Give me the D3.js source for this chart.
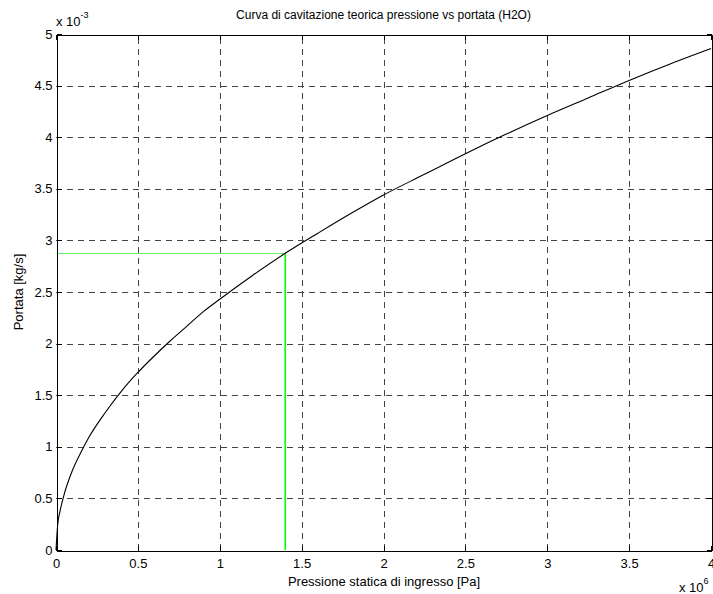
<!DOCTYPE html>
<html>
<head>
<meta charset="utf-8">
<script src="https://cdn.jsdelivr.net/npm/d3@7"></script>
<style>
  body { margin: 0; background: #fff; }
  svg text { font-family: "Liberation Sans", Arial, sans-serif; fill: #000; }
</style>
</head>
<body>
<div id="chart"></div>
<script>
// values (x in units of 1e6 Pa, y in units of 1e-3 kg/s)
var pressione = [0, 0.01, 0.025, 0.05, 0.1, 0.15, 0.2, 0.3, 0.4, 0.5, 0.6, 0.7, 0.8, 0.9, 1.0,
                 1.2, 1.4, 1.6, 1.8, 2.0, 2.25, 2.5, 2.75, 3.0, 3.25, 3.5, 3.75, 4.0];
var portata   = [0, 0.24, 0.38, 0.54, 0.77, 0.94, 1.09, 1.33, 1.54, 1.72, 1.88, 2.03, 2.17, 2.31, 2.43,
                 2.66, 2.875, 3.07, 3.26, 3.44, 3.64, 3.84, 4.03, 4.21, 4.38, 4.55, 4.71, 4.86];
var xTicks    = [0, 0.5, 1, 1.5, 2, 2.5, 3, 3.5, 4];
var yTicks    = [0, 0.5, 1, 1.5, 2, 2.5, 3, 3.5, 4, 4.5, 5];
var puntoP    = 1.4;     // operating pressure
var puntoQ    = 2.875;   // corresponding flow

var width  = 713,
    height = 594;
// plot box (note: "top" is taken by window.top)
var pLeft = 56, pRight = 711, pTop = 34, pBottom = 550;

var svg = d3.select("#chart")
            .append("svg")
            .attr("width", width)
            .attr("height", height);

var x = d3.scaleLinear().domain([0, 4]).range([pLeft, pRight]);
var y = d3.scaleLinear().domain([0, 5]).range([pBottom, pTop]);

function px(v) { return Math.round(v) + 0.5; }

// grid
var grid = svg.append("g")
              .attr("stroke", "#444")
              .attr("stroke-width", 1)
              .attr("stroke-dasharray", "6,5")
              .attr("shape-rendering", "crispEdges");

grid.selectAll(".gx")
    .data(xTicks.slice(1, -1))
    .enter()
    .append("line")
    .attr("x1", function(d) { return px(x(d)); })
    .attr("x2", function(d) { return px(x(d)); })
    .attr("y1", pBottom)
    .attr("y2", pTop);

grid.selectAll(".gy")
    .data(yTicks.slice(1, -1))
    .enter()
    .append("line")
    .attr("x1", pLeft)
    .attr("x2", pRight)
    .attr("y1", function(d) { return px(y(d)); })
    .attr("y2", function(d) { return px(y(d)); });

// operating point guides
svg.append("line")
   .attr("x1", px(x(0))).attr("x2", px(x(puntoP)))
   .attr("y1", px(y(puntoQ))).attr("y2", px(y(puntoQ)))
   .style("stroke", "#66ee66").attr("stroke-width", 1)
   .attr("shape-rendering", "crispEdges");

svg.append("line")
   .attr("x1", x(puntoP)).attr("x2", x(puntoP))
   .attr("y1", px(y(puntoQ))).attr("y2", y(0))
   .style("stroke", "#00ff00").attr("stroke-width", 1.6);

// curve
var punti = pressione.map(function(p, i) { return [p, portata[i]]; });
var line = d3.line()
             .x(function(d) { return x(d[0]); })
             .y(function(d) { return y(d[1]); })
             .curve(d3.curveMonotoneX);

svg.append("path")
   .datum(punti)
   .attr("fill", "none")
   .attr("stroke", "#000")
   .attr("stroke-width", 1.1)
   .attr("d", line);

// axes (MATLAB style, ticks inside, box)
var xAxis = svg.append("g")
               .attr("transform", "translate(0," + px(pBottom) + ")")
               .call(d3.axisBottom(x).tickValues(xTicks).tickSizeInner(-5).tickSizeOuter(0).tickPadding(8)
                       .tickFormat(d3.format("")));
var yAxis = svg.append("g")
               .attr("transform", "translate(" + px(pLeft) + ",0)")
               .call(d3.axisLeft(y).tickValues(yTicks).tickSizeInner(-5).tickSizeOuter(0).tickPadding(4)
                       .tickFormat(d3.format("")));
var xTop = svg.append("g")
              .attr("transform", "translate(0," + px(pTop) + ")")
              .call(d3.axisTop(x).tickValues(xTicks).tickSizeInner(-5).tickSizeOuter(0).tickFormat(""));
var yRight = svg.append("g")
                .attr("transform", "translate(" + px(pRight) + ",0)")
                .call(d3.axisRight(y).tickValues(yTicks).tickSizeInner(-5).tickSizeOuter(0).tickFormat(""));

[xAxis, yAxis, xTop, yRight].forEach(function(a) {
  a.attr("shape-rendering", "crispEdges");
  a.selectAll("path").attr("stroke", "#000");
  a.selectAll("line").attr("stroke", "#000");
  a.selectAll("text").style("font-size", "13px").attr("fill", "#000");
});

// labels
svg.append("text")
   .attr("x", (pLeft + pRight) / 2)
   .attr("y", 19)
   .attr("text-anchor", "middle")
   .style("font-size", "12px")
   .text("Curva di cavitazione teorica pressione vs portata (H2O)");

svg.append("text")
   .attr("x", (pLeft + pRight) / 2 + 0.5)
   .attr("y", 586)
   .attr("text-anchor", "middle")
   .style("font-size", "13px")
   .text("Pressione statica di ingresso [Pa]");

svg.append("text")
   .attr("transform", "translate(23," + ((pTop + pBottom) / 2) + ") rotate(-90)")
   .attr("text-anchor", "middle")
   .style("font-size", "13px")
   .text("Portata [kg/s]");

// exponent labels
var expY = svg.append("text").attr("x", 56).attr("y", 26).style("font-size", "13px");
expY.append("tspan").text("x 10");
expY.append("tspan").attr("dy", -8).style("font-size", "9px").text("-3");

var expX = svg.append("text").attr("x", 679).attr("y", 592).style("font-size", "13px");
expX.append("tspan").text("x 10");
expX.append("tspan").attr("dy", -8).style("font-size", "9px").text("6");
</script>
</body>
</html>
